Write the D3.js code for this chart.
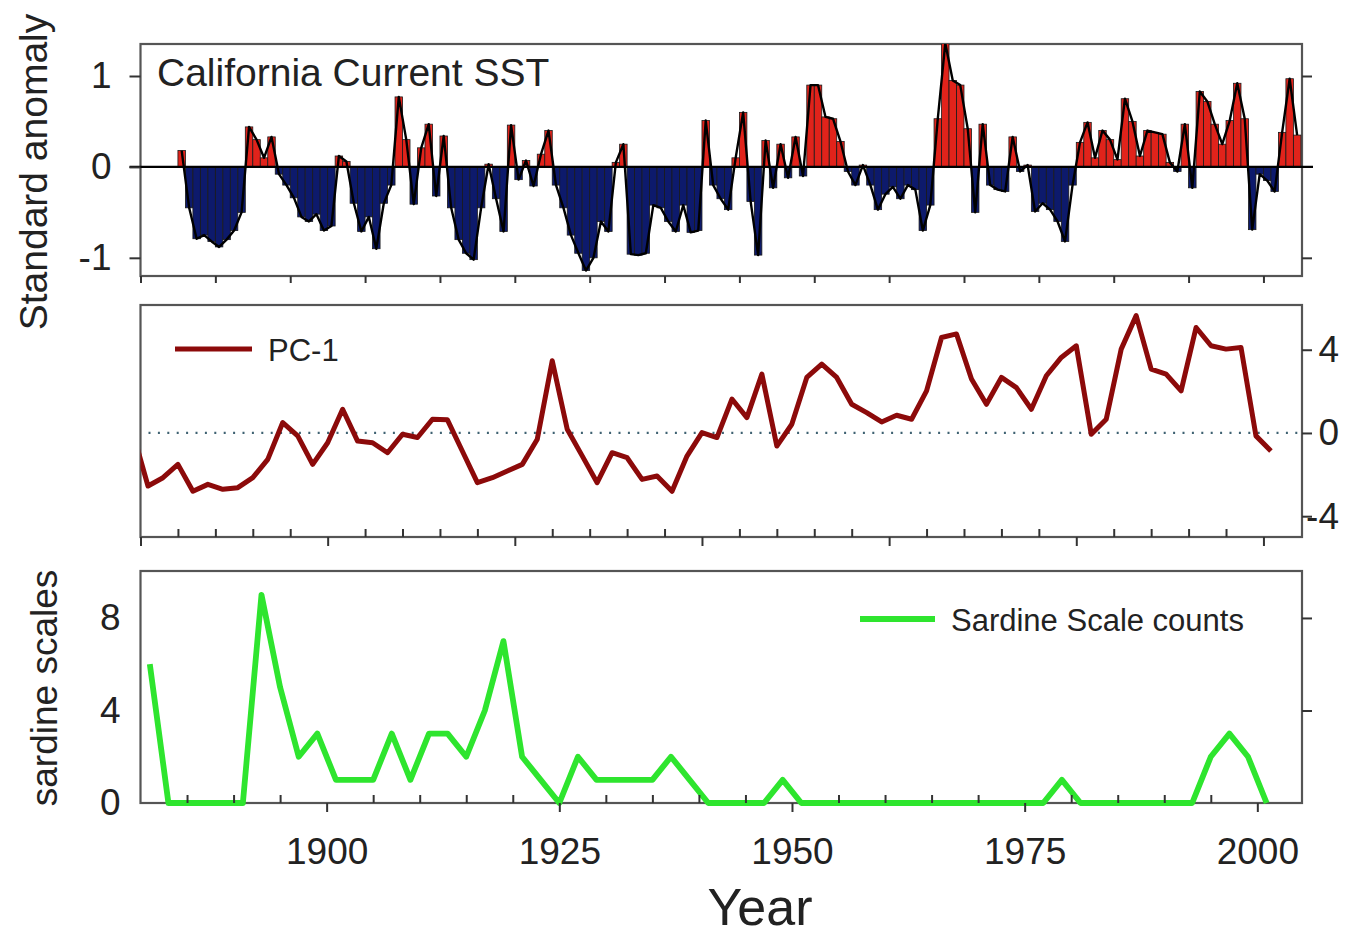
<!DOCTYPE html>
<html>
<head>
<meta charset="utf-8">
<script src="https://cdn.jsdelivr.net/npm/d3@7/dist/d3.min.js"></script>
<style>
  body { margin: 0; background: #fff; }
  text { font-family: "Liberation Sans", Arial, sans-serif; fill: #222; }
</style>
</head>
<body>
<svg id="chart" width="1363" height="940"></svg>
<script>
// California Current SST, standard anomaly, one bar per year from 1855
const sstYears = d3.range(1855, 2005);
const sstValues = [
  0.18, -0.45, -0.79, -0.75, -0.82, -0.88, -0.8, -0.7, -0.5, 0.44,
  0.3, 0.1, 0.33, -0.08, -0.2, -0.34, -0.55, -0.6, -0.52, -0.7,
  -0.65, 0.12, 0.06, -0.4, -0.71, -0.55, -0.9, -0.4, -0.2, 0.77,
  0.3, -0.41, 0.21, 0.47, -0.32, 0.34, -0.45, -0.8, -0.95, -1.02,
  -0.45, 0.03, -0.35, -0.71, 0.46, -0.14, 0.07, -0.21, 0.14, 0.4,
  -0.2, -0.45, -0.75, -0.95, -1.14, -1.0, -0.6, -0.71, 0.05, 0.25,
  -0.96, -0.97, -0.95, -0.42, -0.45, -0.6, -0.71, -0.42, -0.72, -0.7,
  0.51, -0.2, -0.35, -0.47, 0.1, 0.6, -0.38, -0.97, 0.29, -0.23,
  0.25, -0.12, 0.33, -0.1, 0.9, 0.9, 0.55, 0.53, 0.28, -0.05,
  -0.2, 0.02, -0.2, -0.47, -0.3, -0.22, -0.35, -0.2, -0.25, -0.7,
  -0.42, 0.53, 1.36, 0.95, 0.9, 0.42, -0.5, 0.47, -0.2, -0.25,
  -0.27, 0.33, -0.05, 0.02, -0.49, -0.4, -0.47, -0.6, -0.82, -0.2,
  0.27, 0.49, 0.1, 0.4, 0.3, 0.08, 0.75, 0.5, 0.12, 0.4,
  0.38, 0.36, 0.05, -0.05, 0.47, -0.23, 0.83, 0.72, 0.47, 0.25,
  0.51, 0.92, 0.53, -0.69, -0.08, -0.15, -0.27, 0.38, 0.97, 0.35
];

const pcYears = [
  1849, 1851, 1853, 1855, 1857, 1859, 1861, 1863, 1865, 1867,
  1869, 1871, 1873, 1875, 1877, 1879, 1881, 1883, 1885, 1887,
  1889, 1891, 1893, 1895, 1897, 1899, 1901, 1903, 1905, 1907,
  1909, 1911, 1913, 1915, 1917, 1919, 1921, 1923, 1925, 1927,
  1929, 1931, 1933, 1935, 1937, 1939, 1941, 1943, 1945, 1947,
  1949, 1951, 1953, 1955, 1957, 1959, 1961, 1963, 1965, 1967,
  1969, 1971, 1973, 1975, 1977, 1979, 1981, 1983, 1985, 1987,
  1989, 1991, 1993, 1995, 1997, 1999, 2001
];
const pcValues = [
  0.0, -2.55, -2.15, -1.51, -2.8, -2.47, -2.71, -2.63, -2.15, -1.27,
  0.5, -0.14, -1.51, -0.47, 1.14, -0.39, -0.47, -0.95, -0.06, -0.22,
  0.66, 0.63, -0.88, -2.39, -2.15, -1.83, -1.51, -0.3, 3.47, 0.18,
  -1.1, -2.39, -0.95, -1.19, -2.23, -2.07, -2.8, -1.11, 0.02, -0.22,
  1.63, 0.74, 2.83, -0.63, 0.42, 2.67, 3.31, 2.67, 1.38, 0.98,
  0.53, 0.85, 0.66, 2.02, 4.59, 4.76, 2.59, 1.38, 2.67, 2.18,
  1.14, 2.75, 3.63, 4.19, -0.06, 0.66, 4.03, 5.64, 3.07, 2.83,
  2.02, 5.07, 4.19, 4.03, 4.11, -0.14, -0.87
];

const sardineYears = [
  1881, 1883, 1885, 1887, 1889, 1891, 1893, 1895, 1897, 1899,
  1901, 1903, 1905, 1907, 1909, 1911, 1913, 1915, 1917, 1919,
  1921, 1923, 1925, 1927, 1929, 1931, 1933, 1935, 1937, 1939,
  1941, 1943, 1945, 1947, 1949, 1951, 1953, 1955, 1957, 1959,
  1961, 1963, 1965, 1967, 1969, 1971, 1973, 1975, 1977, 1979,
  1981, 1983, 1985, 1987, 1989, 1991, 1993, 1995, 1997, 1999,
  2001
];
const sardineValues = [
  6, 0, 0, 0, 0, 0, 9, 5, 2, 3,
  1, 1, 1, 3, 1, 3, 3, 2, 4, 7,
  2, 1, 0, 2, 1, 1, 1, 1, 2, 1,
  0, 0, 0, 0, 1, 0, 0, 0, 0, 0,
  0, 0, 0, 0, 0, 0, 0, 0, 0, 1,
  0, 0, 0, 0, 0, 0, 0, 2, 3, 2,
  0
];

const sstTicks = [-1, 0, 1];
const pcTicks = [-4, 0, 4];
const sardineTicks = [0, 4, 8];
const yearLabels = [1900, 1925, 1950, 1975, 2000];

const FRAME = '#555';
const TICK = '#333';
const LEFT = 140.5;
const RIGHT = 1302;

// plain hyphen for negatives, like the original
let plain = d => String(d);

let svg = d3.select('#chart');

// top and middle panels share a 1850-2005 axis, the bottom one starts at 1880
let xLong = d3.scaleLinear().domain([1850, 2005.15]).range([LEFT, RIGHT]);
let xShort = d3.scaleLinear().domain([1880, 2004.8]).range([LEFT, RIGHT]);

let ySst = d3.scaleLinear().domain([-1.2, 1.352]).range([276, 44]);
let yPc = d3.scaleLinear().domain([-5, 6.15]).range([537, 305]);
let ySar = d3.scaleLinear().domain([0, 10.03]).range([803, 571]);

function frame(y0, y1, id) {
  svg.append('clipPath').attr('id', id)
    .append('rect').attr('x', LEFT).attr('y', y0).attr('width', RIGHT - LEFT).attr('height', y1 - y0);
  svg.append('rect')
    .attr('x', LEFT).attr('y', y0).attr('width', RIGHT - LEFT).attr('height', y1 - y0)
    .style('fill', 'none').style('stroke', FRAME).style('stroke-width', 2.2);
}

function styleAxis(g) {
  g.select('.domain').remove();
  g.selectAll('.tick line').style('stroke', TICK).style('stroke-width', 2);
  g.selectAll('.tick text').style('font-size', '37px').style('fill', '#222')
    .style('font-family', '"Liberation Sans", Arial, sans-serif');
}

// ---- top panel: SST bars
frame(44, 276, 'clip-top');

let barW = xLong(1) - xLong(0);
let bars = svg.append('g').attr('clip-path', 'url(#clip-top)');
bars.selectAll('rect')
  .data(sstYears.map((yr, i) => ({ yr, v: sstValues[i] })))
  .enter().append('rect')
  .attr('x', d => xLong(d.yr))
  .attr('width', barW)
  .attr('y', d => ySst(Math.max(0, d.v)))
  .attr('height', d => Math.abs(ySst(d.v) - ySst(0)))
  .style('fill', d => d.v >= 0 ? '#e1231b' : '#0d1a6c')
  .style('stroke', '#1a1a1a')
  .style('stroke-width', 0.8);

bars.append('path')
  .datum(sstYears.map((yr, i) => [yr + 0.5, sstValues[i]]))
  .attr('d', d3.line().x(d => xLong(d[0])).y(d => ySst(d[1])))
  .style('fill', 'none').style('stroke', '#000').style('stroke-width', 2.4)
  .style('stroke-linejoin', 'round');

svg.append('line')
  .attr('x1', LEFT - 11).attr('x2', RIGHT + 11)
  .attr('y1', ySst(0)).attr('y2', ySst(0))
  .style('stroke', '#000').style('stroke-width', 2.2);

svg.append('g').attr('transform', `translate(${LEFT},0)`)
  .call(d3.axisLeft(ySst).tickValues(sstTicks).tickSize(11).tickPadding(18).tickFormat(plain))
  .call(styleAxis);
svg.append('g').attr('transform', `translate(${RIGHT},0)`)
  .call(d3.axisRight(ySst).tickValues([-1, 1]).tickSize(10).tickFormat(''))
  .call(styleAxis);
svg.append('g').attr('transform', 'translate(0,276)')
  .call(d3.axisBottom(xLong).tickValues(d3.range(1850, 2001, 10)).tickSize(7).tickFormat(''))
  .call(styleAxis);

svg.append('text')
  .attr('x', 157).attr('y', 86)
  .style('font-size', '39px')
  .text('California Current SST');

svg.append('text')
  .attr('transform', 'translate(47,172) rotate(-90)')
  .attr('text-anchor', 'middle')
  .style('font-size', '39px')
  .text('Standard anomaly');

// ---- middle panel: PC-1
frame(305, 537, 'clip-mid');

svg.append('line')
  .attr('x1', LEFT + 8).attr('x2', RIGHT - 4)
  .attr('y1', yPc(0)).attr('y2', yPc(0))
  .style('stroke', '#3f6272').style('stroke-width', 2.2)
  .style('stroke-dasharray', '2,7.4');

svg.append('g').attr('clip-path', 'url(#clip-mid)')
  .append('path')
  .datum(pcYears.map((yr, i) => [yr, pcValues[i]]))
  .attr('d', d3.line().x(d => xLong(d[0])).y(d => yPc(d[1])))
  .style('fill', 'none').style('stroke', '#8c0a0a').style('stroke-width', 5)
  .style('stroke-linejoin', 'round');

svg.append('g').attr('transform', `translate(${RIGHT},0)`)
  .call(d3.axisRight(yPc).tickValues(pcTicks).tickSize(10).tickPadding(8).tickFormat(plain))
  .call(g => {
    styleAxis(g);
    g.selectAll('.tick text').attr('text-anchor', 'end').attr('x', 37);
  });
svg.append('g').attr('transform', 'translate(0,537)')
  .call(d3.axisBottom(xLong).tickValues(d3.range(1850, 2001, 25)).tickSize(9).tickFormat(''))
  .call(styleAxis);
svg.append('g').attr('transform', 'translate(0,537)')
  .call(d3.axisBottom(xLong).tickValues(d3.range(1855, 2005, 5).filter(y => y % 25)).tickSize(-8).tickFormat(''))
  .call(styleAxis);

svg.append('line')
  .attr('x1', 175).attr('x2', 252).attr('y1', 349).attr('y2', 349)
  .style('stroke', '#8c0a0a').style('stroke-width', 5);
svg.append('text')
  .attr('x', 268).attr('y', 361)
  .style('font-size', '31px')
  .text('PC-1');

// ---- bottom panel: sardine scales
frame(571, 803, 'clip-bot');

svg.append('path')
  .datum(sardineYears.map((yr, i) => [yr, sardineValues[i]]))
  .attr('d', d3.line().x(d => xShort(d[0])).y(d => ySar(d[1])))
  .style('fill', 'none').style('stroke', '#2ee52e').style('stroke-width', 5.8)
  .style('stroke-linejoin', 'round');

svg.append('g').attr('transform', `translate(${LEFT},0)`)
  .call(d3.axisLeft(ySar).tickValues(sardineTicks).tickSize(0).tickPadding(20).tickFormat(plain))
  .call(styleAxis);
svg.append('g').attr('transform', `translate(${RIGHT},0)`)
  .call(d3.axisRight(ySar).tickValues([4, 8]).tickSize(10).tickFormat(''))
  .call(styleAxis);
svg.append('g').attr('transform', 'translate(0,803)')
  .call(d3.axisBottom(xShort).tickValues(yearLabels).tickSize(9).tickPadding(26).tickFormat(plain))
  .call(styleAxis);
svg.append('g').attr('transform', 'translate(0,803)')
  .call(d3.axisBottom(xShort).tickValues(d3.range(1885, 2004, 5).filter(y => y % 25)).tickSize(-8).tickFormat(''))
  .call(styleAxis);

svg.append('line')
  .attr('x1', 860).attr('x2', 935).attr('y1', 619).attr('y2', 619)
  .style('stroke', '#2ee52e').style('stroke-width', 5.8);
svg.append('text')
  .attr('x', 951).attr('y', 631)
  .style('font-size', '31px')
  .text('Sardine Scale counts');

svg.append('text')
  .attr('transform', 'translate(57,688) rotate(-90)')
  .attr('text-anchor', 'middle')
  .style('font-size', '37px')
  .text('sardine scales');

svg.append('text')
  .attr('x', 760).attr('y', 925)
  .attr('text-anchor', 'middle')
  .style('font-size', '52px')
  .text('Year');
</script>
</body>
</html>
